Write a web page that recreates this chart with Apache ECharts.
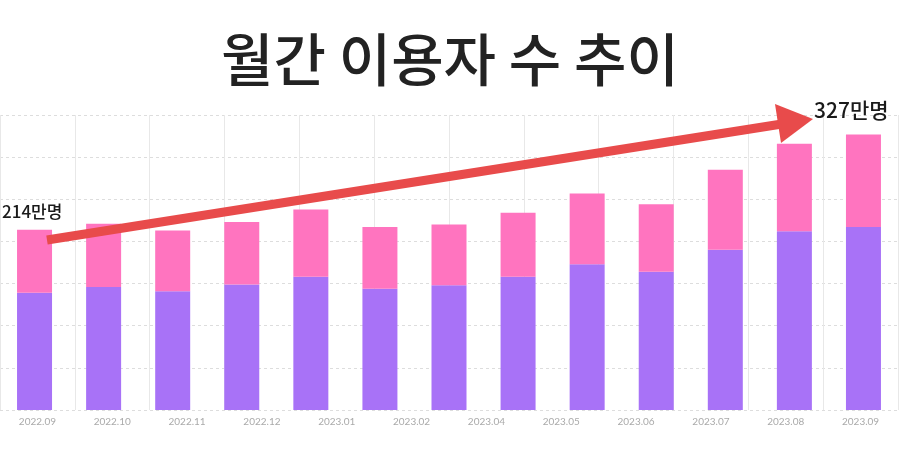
<!DOCTYPE html>
<html>
<head>
<meta charset="utf-8">
<script src="https://cdn.jsdelivr.net/npm/echarts@6/dist/echarts.min.js"></script>
<style>
html,body{margin:0;padding:0;background:#fff;}
#chart{width:900px;height:450px;}
</style>
</head>
<body>
<div id="chart"></div>
<script>
// Tick labels shown on the axis (as in the reference; 2023.03 absent)
const axisLabels = ['2022.09','2022.10','2022.11','2022.12','2023.01','2023.02','2023.04','2023.05','2023.06','2023.07','2023.08','2023.09'];
// Months for the bars (13 bars)
const months = ['2022.09','2022.10','2022.11','2022.12','2023.01','2023.02','2023.03','2023.04','2023.05','2023.06','2023.07','2023.08','2023.09'];
// Stacked values (만명)
const baseUsers = [139, 146, 141, 149, 158, 144, 148, 158, 173, 164, 190, 212, 217];
const topUsers  = [75, 75, 72, 74, 80, 73, 72, 76, 84, 80, 95, 104, 110];
const totals = baseUsers.map((v, i) => v + topUsers[i]);

const chart = echarts.init(document.getElementById('chart'));
const cjk = '"Noto Sans CJK KR", "Noto Sans", sans-serif';

chart.setOption({
  animation: false,
  backgroundColor: '#ffffff',
  title: {
    text: '월간 이용자 수 추이',
    left: 'center',
    top: 26,
    textStyle: { fontFamily: cjk, fontSize: 57, fontWeight: 500, color: '#222222' }
  },
  grid: { left: -2, right: 2, top: 115, bottom: 40, containLabel: false },
  xAxis: [
    {
      type: 'category',
      data: axisLabels,
      position: 'bottom',
      boundaryGap: true,
      axisLine: { show: false },
      axisTick: { show: false },
      axisLabel: { interval: 0, color: '#aaaaaa', fontSize: 10, fontFamily: 'Lato, sans-serif', margin: 7 },
      splitLine: { show: true, interval: 0, lineStyle: { color: '#e8e8e8', width: 1, type: 'solid' } }
    },
    {
      type: 'category',
      data: months,
      position: 'bottom',
      show: false
    }
  ],
  yAxis: {
    type: 'value',
    min: 0,
    max: 350,
    interval: 50,
    axisLabel: { show: false },
    axisLine: { show: false },
    axisTick: { show: false },
    splitLine: { show: true, lineStyle: { color: '#dddddd', width: 1, type: [3, 3] } }
  },
  series: [
    {
      name: '기존',
      type: 'bar',
      xAxisIndex: 1,
      stack: 'users',
      barWidth: 35,
      itemStyle: { color: '#a872f7' },
      data: baseUsers
    },
    {
      name: '신규',
      type: 'bar',
      xAxisIndex: 1,
      stack: 'users',
      barWidth: 35,
      itemStyle: { color: '#ff74bf' },
      data: topUsers
    }
  ],
  graphic: [
    {
      type: 'line',
      z: 100,
      shape: { x1: 47, y1: 240, x2: 785, y2: 123.5 },
      style: { stroke: '#e84b4b', lineWidth: 9 }
    },
    {
      type: 'polygon',
      z: 100,
      shape: { points: [[813, 119], [775, 104], [781, 143]] },
      style: { fill: '#e84b4b' }
    },
    {
      type: 'text',
      z: 101,
      left: 2,
      top: 203,
      style: { text: totals[0] + '만명', fontFamily: cjk, fontSize: 17, fontWeight: 500, fill: '#1a1a1a' }
    },
    {
      type: 'text',
      z: 101,
      left: 814,
      top: 100,
      style: { text: totals[totals.length - 1] + '만명', fontFamily: cjk, fontSize: 21, fontWeight: 500, fill: '#1a1a1a' }
    }
  ]
});
</script>
</body>
</html>
